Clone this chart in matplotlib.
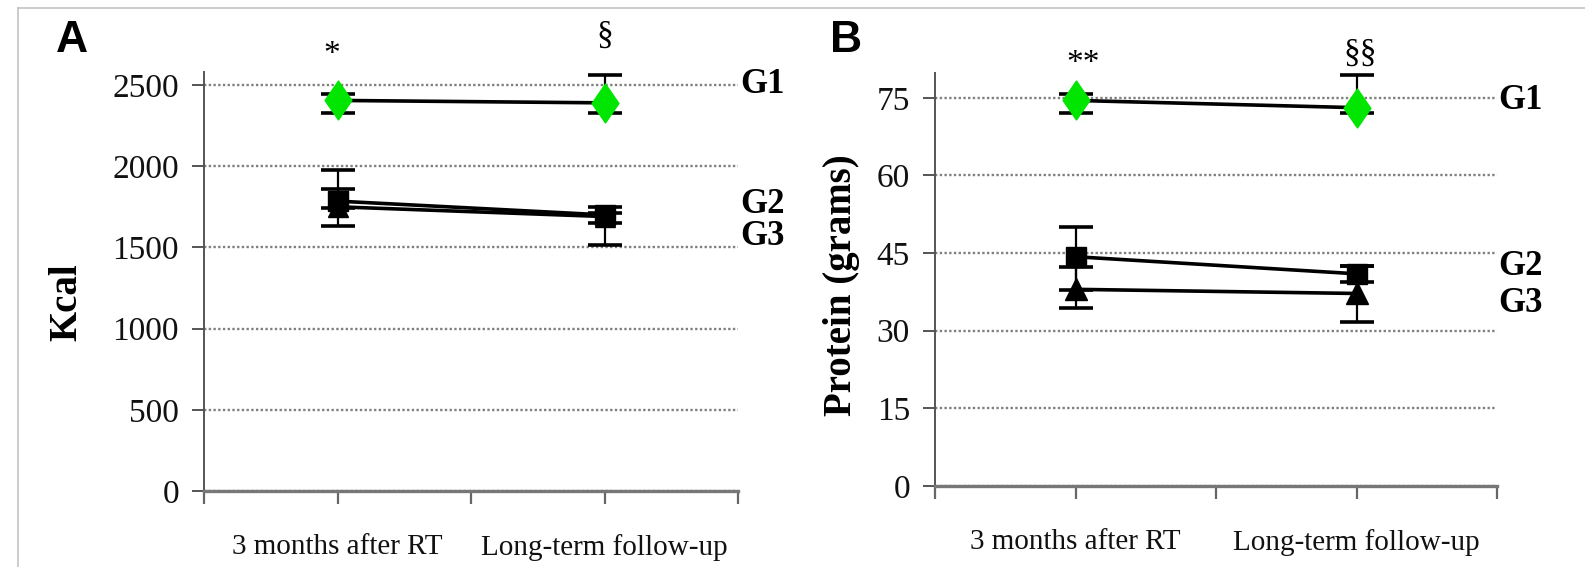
import matplotlib
matplotlib.use('Agg')
import matplotlib.pyplot as plt
import matplotlib.transforms as mtransforms
from matplotlib.lines import Line2D
from matplotlib.path import Path

# ---------------- data ----------------
categories = ['3 months after RT', 'Long-term follow-up']
x_pos = [1, 3]
group_names = ['G1', 'G2', 'G3']

kcal_g1 = [2405, 2390]
kcal_g1_lo = [78, 63]
kcal_g1_hi = [38, 171]
kcal_g2 = [1785, 1700]
kcal_g2_lo = [41, 50]
kcal_g2_hi = [191, 50]
kcal_g3 = [1750, 1690]
kcal_g3_lo = [120, 178]
kcal_g3_hi = [112, 20]
kcal_ticks = [0, 500, 1000, 1500, 2000, 2500]

prot_g1 = [74.5, 73.1]
prot_g1_lo = [2.5, 1.1]
prot_g1_hi = [1.2, 6.3]
prot_g2 = [44.3, 41.0]
prot_g2_lo = [6.4, 1.5]
prot_g2_hi = [5.7, 1.5]
prot_g3 = [38.0, 37.2]
prot_g3_lo = [3.7, 5.5]
prot_g3_hi = [4.4, 5.3]
prot_ticks = [0, 15, 30, 45, 60, 75]

W, H = 1585, 567
fig = plt.figure(figsize=(W / 100, H / 100), dpi=100)

SERIF = 'Liberation Serif'
SANS = 'Liberation Sans'
GREEN = '#00e600'
diamond = Path([(0, 1), (0.69, 0), (0, -1), (-0.69, 0), (0, 1)],
               [Path.MOVETO, Path.LINETO, Path.LINETO, Path.LINETO, Path.CLOSEPOLY])


def px(x, y):
    return x / W, 1 - y / H


def make_panel(rect, ylim, ticks, series, ylabel, ylabel_xy, glabel_y, glabel_x):
    ax = fig.add_axes(rect)
    ax.set_xlim(0, 4)
    ax.set_ylim(*ylim)
    ax.set_yticks(ticks)
    ax.set_yticklabels([str(t) for t in ticks])
    ax.set_xticks([0, 1, 2, 3, 4])
    ax.set_xticklabels(['', categories[0], '', categories[1], ''])
    for s in ['top', 'right']:
        ax.spines[s].set_visible(False)
    ax.spines['left'].set_color('#555555')
    ax.spines['left'].set_linewidth(1.4)
    ax.spines['bottom'].set_color('#777777')
    ax.spines['bottom'].set_linewidth(2.4)
    ax.tick_params(axis='y', direction='out', length=9, width=1.4, color='#555555',
                   pad=9, labelsize=24, labelcolor='#111111')
    ax.tick_params(axis='x', direction='out', length=9, width=1.6, color='#666666',
                   pad=22, labelsize=21, labelcolor='#111111')
    for lab in ax.get_yticklabels() + ax.get_xticklabels():
        lab.set_fontfamily(SERIF)
    ax.yaxis.grid(True, linestyle=(0, (1, 1)), color='#808080', linewidth=1.7)
    ax.set_axisbelow(True)

    for vals, lo, hi, marker, color, ms in series:
        ax.errorbar(x_pos, vals, yerr=[lo, hi], fmt='none', ecolor='black',
                    elinewidth=1.6, capsize=12, capthick=2.6, zorder=3)
    for vals, lo, hi, marker, color, ms in series:
        ax.plot(x_pos, vals, color='black', linewidth=2.6, zorder=4)
    for vals, lo, hi, marker, color, ms in series:
        ax.plot(x_pos, vals, linestyle='none', marker=marker, markersize=ms,
                markerfacecolor=color, markeredgecolor=color, zorder=5)

    fig.text(*px(*ylabel_xy), ylabel, rotation=90, ha='center', va='center',
             fontsize=28, fontweight='bold', family=SERIF)
    tr = mtransforms.blended_transform_factory(fig.transFigure, ax.transData)
    for name, gy in zip(group_names, glabel_y):
        fig.text(glabel_x / W, gy, name, transform=tr, ha='left', va='center',
                 fontsize=25, fontweight='bold', family=SERIF)
    return ax


axA = make_panel([204 / W, 1 - 491 / H, (738 - 204) / W, (491 - 72) / H],
                 (0, 2580), kcal_ticks,
                 [(kcal_g1, kcal_g1_lo, kcal_g1_hi, diamond, GREEN, 28),
                  (kcal_g2, kcal_g2_lo, kcal_g2_hi, 's', 'black', 15),
                  (kcal_g3, kcal_g3_lo, kcal_g3_hi, '^', 'black', 15)],
                 'Kcal', (67, 302), [2500, 1767, 1570], 740)

axB = make_panel([935 / W, 1 - 486 / H, (1497 - 935) / W, (486 - 73) / H],
                 (0, 79.8), prot_ticks,
                 [(prot_g1, prot_g1_lo, prot_g1_hi, diamond, GREEN, 28),
                  (prot_g2, prot_g2_lo, prot_g2_hi, 's', 'black', 15),
                  (prot_g3, prot_g3_lo, prot_g3_hi, '^', 'black', 16)],
                 'Protein (grams)', (841, 285), [74.4, 42.4, 35.3], 1498)

# panel letters
fig.text(*px(72, 40), 'A', ha='center', va='center', fontsize=32,
         fontweight='bold', family=SANS)
fig.text(*px(846, 41), 'B', ha='center', va='center', fontsize=32,
         fontweight='bold', family=SANS)

# significance markers
fig.text(*px(332, 63), '*', ha='center', va='baseline', fontsize=24, family=SERIF)
fig.text(*px(605, 44), '§', ha='center', va='baseline', fontsize=24, family=SERIF)
fig.text(*px(1083, 72), '**', ha='center', va='baseline', fontsize=24, family=SERIF)
fig.text(*px(1360, 62), '§§', ha='center', va='baseline', fontsize=24, family=SERIF)

# thin frame lines (top / left)
fig.add_artist(Line2D([18 / W, 1.0], [1 - 8 / H, 1 - 8 / H], color='#c4c4c4',
                      linewidth=1.2, transform=fig.transFigure))
fig.add_artist(Line2D([18 / W, 18 / W], [0, 1 - 8 / H], color='#c4c4c4',
                      linewidth=1.2, transform=fig.transFigure))

fig.savefig('out.png', dpi=100, facecolor='white')
